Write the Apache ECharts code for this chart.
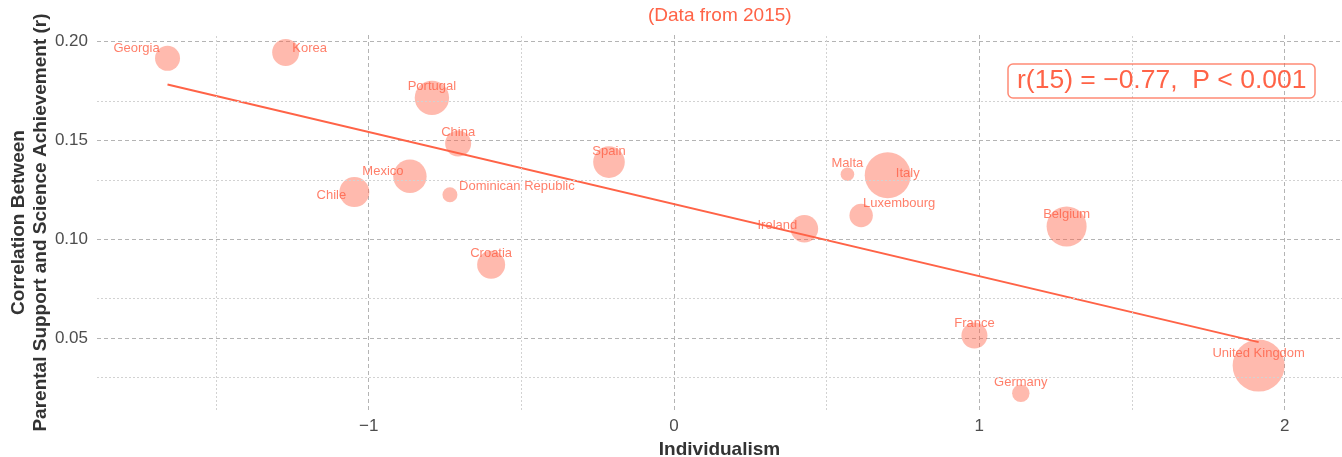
<!DOCTYPE html>
<html>
<head>
<meta charset="utf-8">
<script src="https://cdn.jsdelivr.net/npm/echarts@6/dist/echarts.min.js"></script>
<style>
  html, body { margin: 0; padding: 0; background: #ffffff; }
  #chart { width: 1342px; height: 457px; }
</style>
</head>
<body>
<div id="chart"></div>
<script>
// ---- data ----
const countries = ["Georgia", "Korea", "Portugal", "China", "Spain", "Mexico", "Chile",
  "Dominican Republic", "Croatia", "Ireland", "Malta", "Italy", "Luxembourg",
  "Belgium", "France", "Germany", "United Kingdom"];
const individualism = [-1.659, -1.272, -0.793, -0.707, -0.213, -0.865, -1.047,
  -0.734, -0.599, 0.427, 0.568, 0.700, 0.613, 1.286, 0.984, 1.136, 1.915];
const correlation = [0.1916, 0.1946, 0.1716, 0.1485, 0.1391, 0.1319, 0.1239,
  0.1226, 0.0871, 0.1054, 0.1329, 0.1324, 0.1121, 0.1065, 0.0513, 0.0221, 0.0361];
const bubbleWeight = [156, 182, 296, 169, 250, 279, 225, 56, 196, 190, 46, 529, 137, 400, 169, 76, 676];
const fitX = [-1.659, 1.915];
const fitY = [0.1784, 0.0480];
const xMajorTicks = [-1, 0, 1, 2];
const xMinorTicks = [-1.5, -0.5, 0.5, 1.5];
const yMajorTicks = [0.05, 0.10, 0.15, 0.20];
const yMinorTicks = [0.025, 0.075, 0.125, 0.175];
const subtitleText = "(Data from 2015)";
const statText = "r(15) = \u22120.77,  P < 0.001";
const xTitle = "Individualism";
const yTitle = "Correlation Between\nParental Support and Science Achievement (r)";

// ---- label nudges (layout only) ----
const labelNudge = {
  "Georgia": [-31, -10], "Korea": [24, -4], "Portugal": [0, -11], "China": [0, -11],
  "Spain": [0, -11], "Mexico": [-27, -5], "Chile": [-23, 3], "Dominican Republic": [67, -8],
  "Croatia": [0, -11], "Ireland": [-27, -3], "Malta": [0, -11], "Italy": [20, -2],
  "Luxembourg": [38, -12], "Belgium": [0, -12], "France": [0, -12], "Germany": [0, -11],
  "United Kingdom": [0, -12]
};

const FONT = "'Liberation Sans', Arial, sans-serif";
const TOMATO = "#FF6347";

const points = countries.map((name, i) => ({
  name: name,
  value: [individualism[i], correlation[i], bubbleWeight[i]],
  label: { offset: labelNudge[name] }
}));

const gridStyleMajor = { color: "#b4b4b4", type: [4, 3], width: 1 };
const gridStyleMinor = { color: "#d2d2d2", type: [2, 2], width: 1 };

const option = {
  animation: false,
  backgroundColor: "#ffffff",
  textStyle: { fontFamily: FONT },
  title: [
    {
      text: subtitleText, left: 648, top: 6, padding: 0,
      textStyle: { color: TOMATO, fontSize: 19, fontWeight: "normal", fontFamily: FONT }
    },
    {
      text: statText, left: 1008, top: 64, padding: [3, 9, 3, 9],
      borderColor: "rgba(255,99,71,0.75)", borderWidth: 1.5, borderRadius: 5,
      textStyle: { color: TOMATO, fontSize: 26.5, fontWeight: "normal", lineHeight: 28, fontFamily: FONT }
    }
  ],
  grid: { left: 97, right: 0, top: 35, bottom: 47, containLabel: false, outerBoundsMode: "none" },
  xAxis: {
    type: "value", min: -1.890, max: 2.188,
    name: xTitle, nameLocation: "middle", nameGap: 30, nameMoveOverlap: false,
    nameTextStyle: { fontSize: 19, fontWeight: "bold", color: "#333333", fontFamily: FONT },
    axisLine: { show: false },
    axisTick: { show: false, customValues: xMajorTicks },
    axisLabel: {
      customValues: xMajorTicks, margin: 8, fontSize: 17, color: "#4d4d4d", fontFamily: FONT,
      formatter: v => (v < 0 ? "\u2212" + Math.abs(v) : String(v))
    },
    splitLine: { show: true, lineStyle: gridStyleMajor }
  },
  yAxis: {
    type: "value", min: 0.01364, max: 0.2034,
    name: yTitle, nameLocation: "middle", nameRotate: 90, nameGap: 45, nameMoveOverlap: false,
    nameTextStyle: { fontSize: 19, fontWeight: "bold", color: "#333333", lineHeight: 22, fontFamily: FONT },
    axisLine: { show: false },
    axisTick: { show: false, customValues: yMajorTicks },
    axisLabel: {
      customValues: yMajorTicks, margin: 9, fontSize: 17, color: "#4d4d4d", fontFamily: FONT,
      formatter: v => v.toFixed(2)
    },
    splitLine: { show: true, lineStyle: gridStyleMajor }
  },
  series: [
    {
      type: "scatter", data: [], z: 1, silent: true,
      markLine: {
        silent: true, symbol: ["none", "none"], label: { show: false },
        animation: false,
        lineStyle: gridStyleMinor,
        emphasis: { disabled: true },
        data: xMinorTicks.map(v => ({ xAxis: v })).concat(yMinorTicks.map(v => ({ yAxis: v })))
      }
    },
    {
      type: "scatter", z: 2,
      data: points,
      symbolSize: v => 2 * Math.sqrt(v[2]),
      itemStyle: { color: "rgba(255,99,71,0.55)" },
      label: {
        show: true, position: "inside", formatter: p => p.name,
        color: "#FF5F45", fontSize: 13, fontFamily: FONT, align: "center", verticalAlign: "middle"
      },
      emphasis: { disabled: true }
    },
    {
      type: "line", z: 3, showSymbol: false, silent: true,
      data: fitX.map((x, i) => [x, fitY[i]]),
      lineStyle: { color: TOMATO, width: 2 }
    }
  ]
};

const chart = echarts.init(document.getElementById("chart"), null, { renderer: "canvas" });
chart.setOption(option);
</script>
</body>
</html>
